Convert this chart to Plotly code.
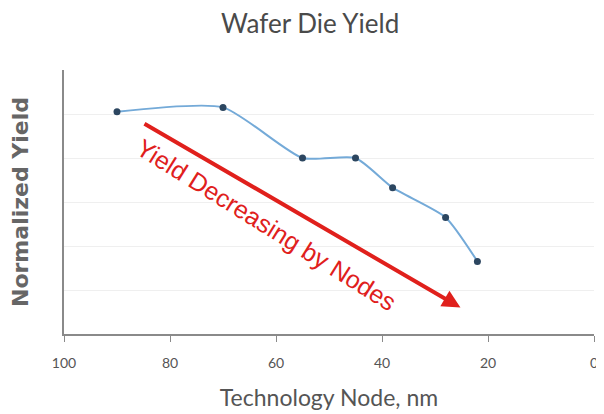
import plotly.graph_objects as go

node_nm = [90, 70, 55, 45, 38, 28, 22]
norm_yield = [1.01, 1.03, 0.80, 0.80, 0.665, 0.53, 0.33]
x_ticks = [100, 80, 60, 40, 20, 0]

fig = go.Figure()
fig.add_trace(go.Scatter(
    x=node_nm, y=norm_yield, mode="lines+markers",
    line=dict(color="#74aad8", width=2, shape="spline", smoothing=0.6),
    marker=dict(color="#2c4660", size=7),
    showlegend=False,
))

# arrow
fig.add_annotation(
    x=25.2, y=0.12, ax=85.1, ay=0.96,
    xref="x", yref="y", axref="x", ayref="y",
    showarrow=True, arrowhead=2, arrowsize=0.9, arrowwidth=4,
    arrowcolor="#e0201c", text="",
)
fig.add_annotation(
    x=61.7, y=0.495, xref="x", yref="y",
    text="Yield Decreasing by Nodes", showarrow=False, textangle=32,
    font=dict(family="Liberation Sans, Arial", size=25, color="#e0201c"),
)

fig.update_layout(
    width=596, height=406,
    margin=dict(l=56, r=10, t=62, b=80, autoexpand=False),
    paper_bgcolor="white", plot_bgcolor="white",
    title=dict(text="Wafer Die Yield", x=0.507, xanchor="center", y=0.96, yanchor="middle",
               font=dict(family="Lato, Open Sans", size=26, color="#4a4a4a")),
    xaxis=dict(
        range=[100, 0], tickvals=x_ticks, showgrid=False, zeroline=False,
        showline=True, linecolor="#8a8a8a", linewidth=2, automargin=False,
        ticks="outside", ticklen=6, tickcolor="#8a8a8a", ticklabelstandoff=9,
        tickfont=dict(family="Lato, Open Sans", size=14, color="#555555"),
        title=dict(text="Technology Node, nm", standoff=20,
                   font=dict(family="Lato, Open Sans", size=23, color="#555555")),
    ),
    yaxis=dict(
        range=[0, 1.2], dtick=0.2, showticklabels=False, showgrid=True,
        gridcolor="#efefef", zeroline=False, automargin=False,
        showline=True, linecolor="#8a8a8a", linewidth=2,
        title=dict(text="<b>Normalized Yield</b>", standoff=33,
                   font=dict(family="DejaVu Sans", size=22, color="#666666")),
    ),
)

fig.write_html("out.html")
